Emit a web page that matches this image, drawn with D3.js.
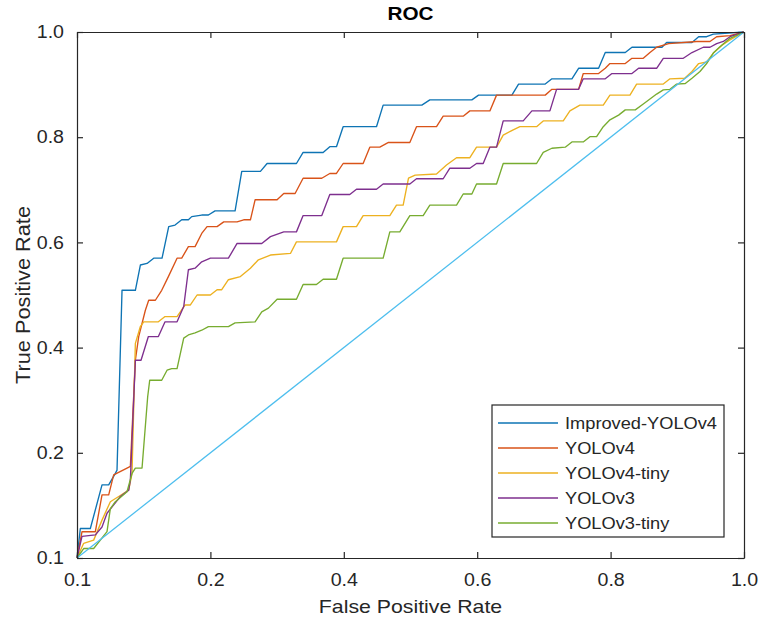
<!DOCTYPE html>
<html>
<head>
<meta charset="utf-8">
<script src="https://cdn.jsdelivr.net/npm/d3@7"></script>
<style>
  html, body { margin: 0; padding: 0; background: #fff; }
  svg { display: block; font-family: "Liberation Sans", Arial, Helvetica, sans-serif; }
</style>
</head>
<body>
<svg id="chart" width="765" height="627"></svg>
<script>
// ---- data (FPR, TPR pairs) ----
const seriesNames = ["Improved-YOLOv4", "YOLOv4", "YOLOv4-tiny", "YOLOv3", "YOLOv3-tiny"];
const seriesColors = ["#0E74B4", "#D95319", "#EDB120", "#7E2F8E", "#77AC30"];
const diagonalColor = "#4DBEEE";

const improvedYOLOv4 = [[0,0],[0.005,0.056],[0.020,0.056],[0.0375,0.139],[0.0475,0.139],[0.0575,0.161],[0.060,0.167],[0.0675,0.509],[0.0875,0.509],[0.095,0.557],[0.105,0.560],[0.115,0.570],[0.1275,0.570],[0.1375,0.630],[0.147,0.633],[0.157,0.643],[0.167,0.643],[0.172,0.649],[0.187,0.652],[0.197,0.652],[0.207,0.660],[0.237,0.660],[0.247,0.735],[0.275,0.735],[0.285,0.750],[0.329,0.750],[0.339,0.771],[0.369,0.771],[0.379,0.782],[0.389,0.782],[0.399,0.820],[0.449,0.820],[0.459,0.861],[0.517,0.861],[0.529,0.871],[0.592,0.871],[0.602,0.880],[0.652,0.880],[0.662,0.901],[0.702,0.901],[0.712,0.911],[0.742,0.911],[0.752,0.931],[0.782,0.931],[0.792,0.961],[0.822,0.961],[0.832,0.971],[0.877,0.971],[0.884,0.980],[0.922,0.980],[0.932,0.991],[0.944,0.991],[0.954,0.996],[1,1]];

const yolov4 = [[0,0],[0.0075,0.050],[0.0275,0.050],[0.0375,0.120],[0.0475,0.120],[0.055,0.158],[0.075,0.171],[0.080,0.174],[0.0875,0.376],[0.0925,0.421],[0.1025,0.471],[0.1075,0.490],[0.1175,0.490],[0.127,0.509],[0.137,0.535],[0.150,0.570],[0.157,0.570],[0.167,0.592],[0.177,0.592],[0.187,0.617],[0.195,0.630],[0.210,0.630],[0.220,0.639],[0.240,0.639],[0.250,0.643],[0.260,0.643],[0.267,0.681],[0.300,0.681],[0.310,0.693],[0.327,0.693],[0.339,0.722],[0.367,0.722],[0.379,0.731],[0.389,0.731],[0.399,0.750],[0.429,0.750],[0.439,0.781],[0.454,0.781],[0.467,0.790],[0.499,0.790],[0.509,0.820],[0.539,0.820],[0.549,0.840],[0.579,0.840],[0.589,0.850],[0.619,0.850],[0.629,0.880],[0.702,0.880],[0.712,0.891],[0.752,0.891],[0.759,0.921],[0.782,0.921],[0.792,0.931],[0.799,0.940],[0.822,0.940],[0.832,0.950],[0.849,0.950],[0.859,0.961],[0.869,0.971],[0.887,0.978],[0.929,0.982],[0.949,0.982],[0.959,0.991],[0.979,0.993],[1,1]];

const yolov4Tiny = [[0,0],[0.010,0.028],[0.025,0.034],[0.0375,0.072],[0.050,0.107],[0.0625,0.117],[0.0775,0.129],[0.0825,0.161],[0.0875,0.408],[0.095,0.440],[0.100,0.449],[0.122,0.449],[0.132,0.459],[0.150,0.459],[0.162,0.481],[0.170,0.481],[0.180,0.500],[0.200,0.500],[0.210,0.510],[0.217,0.510],[0.227,0.529],[0.245,0.535],[0.260,0.551],[0.272,0.567],[0.290,0.576],[0.320,0.579],[0.329,0.601],[0.389,0.601],[0.399,0.630],[0.419,0.630],[0.429,0.651],[0.469,0.651],[0.479,0.671],[0.489,0.671],[0.497,0.722],[0.507,0.728],[0.539,0.730],[0.554,0.747],[0.569,0.761],[0.589,0.761],[0.599,0.781],[0.629,0.781],[0.639,0.804],[0.654,0.814],[0.664,0.820],[0.689,0.820],[0.699,0.831],[0.729,0.831],[0.739,0.850],[0.754,0.861],[0.789,0.861],[0.799,0.880],[0.829,0.880],[0.839,0.901],[0.879,0.901],[0.889,0.911],[0.911,0.912],[0.922,0.925],[0.932,0.940],[0.944,0.943],[0.954,0.960],[0.967,0.975],[0.979,0.985],[1,1]];

const yolov3 = [[0,0],[0.0075,0.041],[0.0275,0.044],[0.0375,0.059],[0.045,0.085],[0.055,0.101],[0.065,0.117],[0.0775,0.129],[0.080,0.148],[0.0875,0.376],[0.096,0.376],[0.107,0.421],[0.122,0.421],[0.132,0.449],[0.150,0.449],[0.160,0.478],[0.167,0.548],[0.177,0.551],[0.187,0.563],[0.200,0.570],[0.227,0.570],[0.240,0.598],[0.277,0.598],[0.290,0.611],[0.310,0.620],[0.329,0.620],[0.339,0.651],[0.367,0.651],[0.379,0.691],[0.409,0.691],[0.419,0.701],[0.449,0.701],[0.459,0.711],[0.499,0.711],[0.509,0.721],[0.549,0.721],[0.559,0.741],[0.589,0.741],[0.599,0.750],[0.609,0.750],[0.619,0.781],[0.629,0.781],[0.639,0.831],[0.669,0.831],[0.682,0.850],[0.709,0.850],[0.719,0.891],[0.752,0.891],[0.759,0.911],[0.792,0.911],[0.802,0.921],[0.832,0.921],[0.842,0.931],[0.869,0.931],[0.879,0.950],[0.909,0.950],[0.922,0.961],[0.939,0.971],[0.949,0.971],[0.959,0.978],[0.969,0.982],[0.979,0.991],[1,1]];

const yolov3Tiny = [[0,0],[0.010,0.018],[0.025,0.018],[0.045,0.050],[0.050,0.094],[0.0575,0.107],[0.075,0.126],[0.0825,0.161],[0.0875,0.171],[0.0975,0.171],[0.106,0.307],[0.109,0.338],[0.127,0.338],[0.135,0.357],[0.142,0.360],[0.150,0.360],[0.160,0.418],[0.167,0.424],[0.177,0.428],[0.187,0.433],[0.197,0.440],[0.227,0.440],[0.237,0.447],[0.267,0.449],[0.277,0.468],[0.287,0.475],[0.300,0.492],[0.329,0.492],[0.339,0.520],[0.359,0.520],[0.369,0.530],[0.389,0.530],[0.399,0.570],[0.459,0.570],[0.469,0.620],[0.484,0.620],[0.499,0.651],[0.519,0.651],[0.529,0.671],[0.569,0.671],[0.579,0.692],[0.592,0.692],[0.599,0.711],[0.629,0.711],[0.639,0.750],[0.689,0.750],[0.699,0.771],[0.712,0.779],[0.732,0.781],[0.742,0.791],[0.759,0.791],[0.769,0.801],[0.779,0.801],[0.789,0.820],[0.799,0.833],[0.812,0.842],[0.822,0.852],[0.837,0.852],[0.849,0.863],[0.869,0.882],[0.879,0.890],[0.889,0.891],[0.899,0.901],[0.912,0.902],[0.922,0.912],[0.934,0.925],[0.944,0.940],[0.954,0.960],[0.964,0.972],[0.979,0.988],[1,1]];

const diagonal = [[0,0],[1,1]];

const tickValues = [0, 0.2, 0.4, 0.6, 0.8, 1.0];
const xTickLabels = ["0.1", "0.2", "0.4", "0.6", "0.8", "1.0"];
const yTickLabels = ["0.1", "0.2", "0.4", "0.6", "0.8", "1.0"];

const titleText = "ROC";
const xTitle = "False Positive Rate";
const yTitle = "True Positive Rate";

// ---- layout ----
const svg = d3.select("#chart");
const L = 77, R = 744, T = 32, B = 558;
const ink = "#262626";
const STRETCH = 1.12;

const x = d3.scaleLinear().domain([0, 1]).range([L, R]);
const y = d3.scaleLinear().domain([0, 1]).range([B, T]);

function stretch(sel, k) {
  sel.each(function () {
    const w = this.getComputedTextLength();
    this.setAttribute("textLength", w * k);
    this.setAttribute("lengthAdjust", "spacingAndGlyphs");
  });
}

// plot background
svg.append("rect").attr("x", L).attr("y", T).attr("width", R - L).attr("height", B - T).attr("fill", "#fff");

// series
const allSeries = [improvedYOLOv4, yolov4, yolov4Tiny, yolov3, yolov3Tiny];
const line = d3.line().x(d => x(d[0])).y(d => y(d[1]));
const plotG = svg.append("g");
allSeries.forEach((s, i) => {
  plotG.append("path").datum(s).attr("d", line)
    .attr("fill", "none").attr("stroke", seriesColors[i])
    .attr("stroke-width", 1.35).attr("stroke-linejoin", "round");
});
plotG.append("path").datum(diagonal).attr("d", line)
  .attr("fill", "none").attr("stroke", diagonalColor).attr("stroke-width", 1.25);

// axes
const tickLen = 6;
const axB = svg.append("g").attr("transform", `translate(0,${B})`)
  .call(d3.axisBottom(x).tickValues(tickValues).tickFormat((d, i) => xTickLabels[i]).tickSizeInner(-tickLen).tickSizeOuter(0).tickPadding(16));
const axL = svg.append("g").attr("transform", `translate(${L},0)`)
  .call(d3.axisLeft(y).tickValues(tickValues).tickFormat((d, i) => yTickLabels[i]).tickSizeInner(-tickLen).tickSizeOuter(0).tickPadding(13));
const axT = svg.append("g").attr("transform", `translate(0,${T})`)
  .call(d3.axisTop(x).tickValues(tickValues).tickFormat("").tickSizeInner(-tickLen).tickSizeOuter(0));
const axR = svg.append("g").attr("transform", `translate(${R},0)`)
  .call(d3.axisRight(y).tickValues(tickValues).tickFormat("").tickSizeInner(-tickLen).tickSizeOuter(0));

[axB, axL, axT, axR].forEach(g => {
  g.select(".domain").attr("stroke", ink).attr("stroke-width", 1.2);
  g.selectAll(".tick line").attr("stroke", ink).attr("stroke-width", 1.2);
  g.selectAll(".tick text").attr("fill", ink).attr("font-size", 17.5)
    .attr("font-family", "'Liberation Sans', Arial, sans-serif");
});
axB.selectAll(".tick text").call(stretch, STRETCH);
axL.selectAll(".tick text").call(stretch, STRETCH);

// title & axis titles
svg.append("text").attr("x", (L + R) / 2).attr("y", 20).attr("text-anchor", "middle")
  .attr("font-size", 18.5).attr("font-weight", "bold").attr("fill", "#000").text(titleText)
  .call(stretch, STRETCH);
svg.append("text").attr("x", (L + R) / 2).attr("y", 613).attr("text-anchor", "middle")
  .attr("font-size", 19).attr("fill", ink).text(xTitle).call(stretch, STRETCH);
svg.append("text").attr("transform", `translate(30,${(T + B) / 2}) rotate(-90)`).attr("text-anchor", "middle")
  .attr("font-size", 20.5).attr("fill", ink).text(yTitle).call(stretch, 1.06);

// legend
const legX = 492, legY = 405, legW = 232, legH = 132;
const leg = svg.append("g");
leg.append("rect").attr("x", legX).attr("y", legY).attr("width", legW).attr("height", legH)
  .attr("fill", "#fff").attr("stroke", ink).attr("stroke-width", 1.2);
seriesNames.forEach((name, i) => {
  const cy = 423 + i * 25;
  leg.append("line").attr("x1", 498).attr("x2", 558).attr("y1", cy).attr("y2", cy)
    .attr("stroke", seriesColors[i]).attr("stroke-width", 1.4);
  leg.append("text").attr("x", 565).attr("y", cy).attr("dy", "0.36em")
    .attr("font-size", 16.3).attr("fill", ink).text(name).call(stretch, STRETCH);
});
</script>
</body>
</html>
